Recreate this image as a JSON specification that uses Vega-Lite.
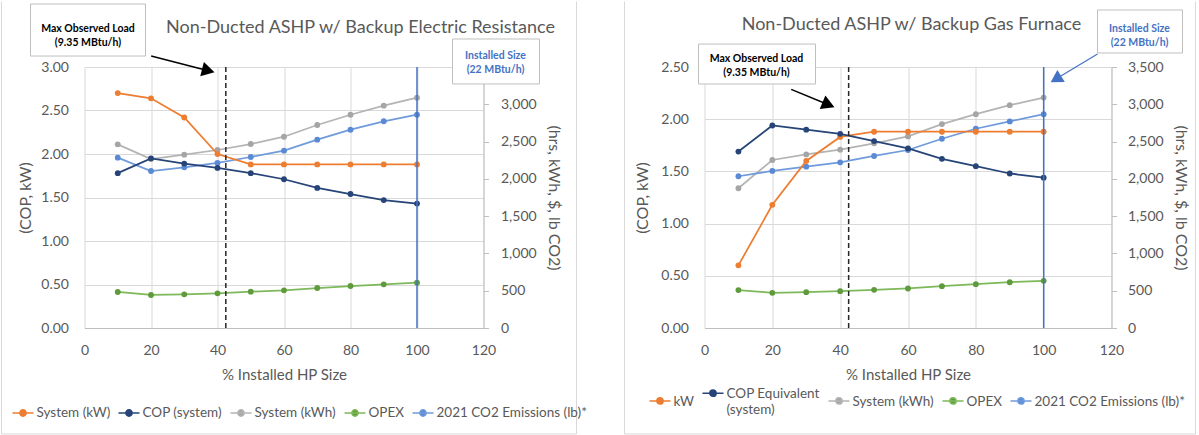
{
  "$schema": "https://vega.github.io/schema/vega-lite/v6.json",
  "padding": {"left": 0.5, "top": 0, "right": 0, "bottom": 0},
  "background": "white",
  "bounds": "flush",
  "spacing": 221,
  "config": {
    "font": "Lato",
    "view": {"stroke": null},
    "axis": {"labelFont": "Lato", "labelFontSize": 14, "labelColor": "#595959", "titleFont": "Lato", "titleFontSize": 16, "titleFontWeight": "normal", "titleColor": "#595959", "labelFlush": false, "labelOverlap": false},
    "axisX": {"titleFontSize": 15},
    "legend": {"labelFont": "Lato", "labelFontSize": 13.5, "labelColor": "#595959", "labelLimit": 400},
    "title": {"font": "Lato", "fontSize": 18, "fontWeight": "normal", "color": "#595959"}
  },
  "datasets": {
    "L": [
      {"x": 10, "s": "System (kW)", "ax": "L", "v": 2.70}, {"x": 20, "s": "System (kW)", "ax": "L", "v": 2.64}, {"x": 30, "s": "System (kW)", "ax": "L", "v": 2.42}, {"x": 40, "s": "System (kW)", "ax": "L", "v": 2.00}, {"x": 50, "s": "System (kW)", "ax": "L", "v": 1.88}, {"x": 60, "s": "System (kW)", "ax": "L", "v": 1.88}, {"x": 70, "s": "System (kW)", "ax": "L", "v": 1.88}, {"x": 80, "s": "System (kW)", "ax": "L", "v": 1.88}, {"x": 90, "s": "System (kW)", "ax": "L", "v": 1.88}, {"x": 100, "s": "System (kW)", "ax": "L", "v": 1.88},
      {"x": 10, "s": "COP (system)", "ax": "L", "v": 1.78}, {"x": 20, "s": "COP (system)", "ax": "L", "v": 1.95}, {"x": 30, "s": "COP (system)", "ax": "L", "v": 1.89}, {"x": 40, "s": "COP (system)", "ax": "L", "v": 1.84}, {"x": 50, "s": "COP (system)", "ax": "L", "v": 1.78}, {"x": 60, "s": "COP (system)", "ax": "L", "v": 1.71}, {"x": 70, "s": "COP (system)", "ax": "L", "v": 1.61}, {"x": 80, "s": "COP (system)", "ax": "L", "v": 1.54}, {"x": 90, "s": "COP (system)", "ax": "L", "v": 1.47}, {"x": 100, "s": "COP (system)", "ax": "L", "v": 1.43},
      {"x": 10, "s": "System (kWh)", "ax": "R", "v": 2463}, {"x": 20, "s": "System (kWh)", "ax": "R", "v": 2266}, {"x": 30, "s": "System (kWh)", "ax": "R", "v": 2324}, {"x": 40, "s": "System (kWh)", "ax": "R", "v": 2387}, {"x": 50, "s": "System (kWh)", "ax": "R", "v": 2467}, {"x": 60, "s": "System (kWh)", "ax": "R", "v": 2565}, {"x": 70, "s": "System (kWh)", "ax": "R", "v": 2722}, {"x": 80, "s": "System (kWh)", "ax": "R", "v": 2860}, {"x": 90, "s": "System (kWh)", "ax": "R", "v": 2981}, {"x": 100, "s": "System (kWh)", "ax": "R", "v": 3088},
      {"x": 10, "s": "OPEX", "ax": "R", "v": 483}, {"x": 20, "s": "OPEX", "ax": "R", "v": 443}, {"x": 30, "s": "OPEX", "ax": "R", "v": 452}, {"x": 40, "s": "OPEX", "ax": "R", "v": 465}, {"x": 50, "s": "OPEX", "ax": "R", "v": 487}, {"x": 60, "s": "OPEX", "ax": "R", "v": 505}, {"x": 70, "s": "OPEX", "ax": "R", "v": 536}, {"x": 80, "s": "OPEX", "ax": "R", "v": 563}, {"x": 90, "s": "OPEX", "ax": "R", "v": 586}, {"x": 100, "s": "OPEX", "ax": "R", "v": 607},
      {"x": 10, "s": "2021 CO2 Emissions (lb)*", "ax": "R", "v": 2284}, {"x": 20, "s": "2021 CO2 Emissions (lb)*", "ax": "R", "v": 2105}, {"x": 30, "s": "2021 CO2 Emissions (lb)*", "ax": "R", "v": 2155}, {"x": 40, "s": "2021 CO2 Emissions (lb)*", "ax": "R", "v": 2213}, {"x": 50, "s": "2021 CO2 Emissions (lb)*", "ax": "R", "v": 2293}, {"x": 60, "s": "2021 CO2 Emissions (lb)*", "ax": "R", "v": 2378}, {"x": 70, "s": "2021 CO2 Emissions (lb)*", "ax": "R", "v": 2525}, {"x": 80, "s": "2021 CO2 Emissions (lb)*", "ax": "R", "v": 2659}, {"x": 90, "s": "2021 CO2 Emissions (lb)*", "ax": "R", "v": 2772}, {"x": 100, "s": "2021 CO2 Emissions (lb)*", "ax": "R", "v": 2860}
    ],
    "R": [
      {"x": 10, "s": "kW", "ax": "L", "v": 0.60}, {"x": 20, "s": "kW", "ax": "L", "v": 1.18}, {"x": 30, "s": "kW", "ax": "L", "v": 1.60}, {"x": 40, "s": "kW", "ax": "L", "v": 1.83}, {"x": 50, "s": "kW", "ax": "L", "v": 1.88}, {"x": 60, "s": "kW", "ax": "L", "v": 1.88}, {"x": 70, "s": "kW", "ax": "L", "v": 1.88}, {"x": 80, "s": "kW", "ax": "L", "v": 1.88}, {"x": 90, "s": "kW", "ax": "L", "v": 1.88}, {"x": 100, "s": "kW", "ax": "L", "v": 1.88},
      {"x": 10, "s": "COP Equivalent (system)", "ax": "L", "v": 1.69}, {"x": 20, "s": "COP Equivalent (system)", "ax": "L", "v": 1.94}, {"x": 30, "s": "COP Equivalent (system)", "ax": "L", "v": 1.90}, {"x": 40, "s": "COP Equivalent (system)", "ax": "L", "v": 1.86}, {"x": 50, "s": "COP Equivalent (system)", "ax": "L", "v": 1.79}, {"x": 60, "s": "COP Equivalent (system)", "ax": "L", "v": 1.72}, {"x": 70, "s": "COP Equivalent (system)", "ax": "L", "v": 1.62}, {"x": 80, "s": "COP Equivalent (system)", "ax": "L", "v": 1.55}, {"x": 90, "s": "COP Equivalent (system)", "ax": "L", "v": 1.48}, {"x": 100, "s": "COP Equivalent (system)", "ax": "L", "v": 1.44},
      {"x": 10, "s": "System (kWh)", "ax": "R", "v": 1874}, {"x": 20, "s": "System (kWh)", "ax": "R", "v": 2253}, {"x": 30, "s": "System (kWh)", "ax": "R", "v": 2328}, {"x": 40, "s": "System (kWh)", "ax": "R", "v": 2391}, {"x": 50, "s": "System (kWh)", "ax": "R", "v": 2476}, {"x": 60, "s": "System (kWh)", "ax": "R", "v": 2569}, {"x": 70, "s": "System (kWh)", "ax": "R", "v": 2734}, {"x": 80, "s": "System (kWh)", "ax": "R", "v": 2868}, {"x": 90, "s": "System (kWh)", "ax": "R", "v": 2988}, {"x": 100, "s": "System (kWh)", "ax": "R", "v": 3090},
      {"x": 10, "s": "OPEX", "ax": "R", "v": 508}, {"x": 20, "s": "OPEX", "ax": "R", "v": 472}, {"x": 30, "s": "OPEX", "ax": "R", "v": 481}, {"x": 40, "s": "OPEX", "ax": "R", "v": 494}, {"x": 50, "s": "OPEX", "ax": "R", "v": 512}, {"x": 60, "s": "OPEX", "ax": "R", "v": 530}, {"x": 70, "s": "OPEX", "ax": "R", "v": 561}, {"x": 80, "s": "OPEX", "ax": "R", "v": 588}, {"x": 90, "s": "OPEX", "ax": "R", "v": 614}, {"x": 100, "s": "OPEX", "ax": "R", "v": 632},
      {"x": 10, "s": "2021 CO2 Emissions (lb)*", "ax": "R", "v": 2035}, {"x": 20, "s": "2021 CO2 Emissions (lb)*", "ax": "R", "v": 2106}, {"x": 30, "s": "2021 CO2 Emissions (lb)*", "ax": "R", "v": 2164}, {"x": 40, "s": "2021 CO2 Emissions (lb)*", "ax": "R", "v": 2222}, {"x": 50, "s": "2021 CO2 Emissions (lb)*", "ax": "R", "v": 2307}, {"x": 60, "s": "2021 CO2 Emissions (lb)*", "ax": "R", "v": 2387}, {"x": 70, "s": "2021 CO2 Emissions (lb)*", "ax": "R", "v": 2538}, {"x": 80, "s": "2021 CO2 Emissions (lb)*", "ax": "R", "v": 2672}, {"x": 90, "s": "2021 CO2 Emissions (lb)*", "ax": "R", "v": 2770}, {"x": 100, "s": "2021 CO2 Emissions (lb)*", "ax": "R", "v": 2868}
    ]
  },
  "hconcat": [
    {
      "width": 399,
      "height": 261,
      "title": {"text": "Non-Ducted ASHP w/ Backup Electric Resistance", "frame": "group", "anchor": "middle", "dx": 76.5, "offset": -35.7},
      "data": {"name": "L"},
      "encoding": {
        "x": {"field": "x", "type": "quantitative", "scale": {"domain": [0, 120]}, "axis": {"values": [0, 20, 40, 60, 80, 100, 120], "title": "% Installed HP Size", "grid": true, "gridColor": "#D9D9D9", "domainColor": "#BFBFBF", "ticks": false, "labelPadding": 15, "titlePadding": 10}}
      },
      "layer": [
        {
          "transform": [{"filter": "datum.ax == 'R'"}],
          "encoding": {"y": {"field": "v", "type": "quantitative", "scale": {"domain": [0, 3500]}, "axis": {"orient": "right", "values": [0, 500, 1000, 1500, 2000, 2500, 3000], "format": ",.0f", "title": "(hrs, kWh, $, lb CO2)", "grid": false, "domainColor": "#BFBFBF", "tickColor": "#BFBFBF", "tickSize": 5, "labelPadding": 12, "titlePadding": 9}}},
          "layer": [
            {"mark": {"type": "line", "strokeWidth": 1.75}, "encoding": {"stroke": {"field": "s", "type": "nominal", "scale": {"domain": ["System (kW)", "COP (system)", "System (kWh)", "OPEX", "2021 CO2 Emissions (lb)*"], "range": ["#ED7D31", "#264478", "#B4B4B4", "#7DB85A", "#6F9BDC"]}, "legend": {"orient": "none", "legendX": -73, "legendY": 334.5, "direction": "horizontal", "title": null, "symbolType": "M-1,0H1M0.3,0A0.3,0.3,0,1,1,-0.3,0A0.3,0.3,0,1,1,0.3,0Z", "symbolSize": 441, "symbolStrokeWidth": 1.5, "labelOffset": 2, "columnPadding": 5}}}},
            {"mark": {"type": "point", "filled": true, "size": 34, "opacity": 1}, "encoding": {"fill": {"field": "s", "type": "nominal", "scale": {"domain": ["System (kW)", "COP (system)", "System (kWh)", "OPEX", "2021 CO2 Emissions (lb)*"], "range": ["#ED7D31", "#264478", "#A5A5A5", "#5F9B3C", "#5A8AD4"]}, "legend": {"orient": "none", "legendX": -73, "legendY": 334.5, "direction": "horizontal", "title": null, "symbolType": "M-1,0H1M0.3,0A0.3,0.3,0,1,1,-0.3,0A0.3,0.3,0,1,1,0.3,0Z", "symbolSize": 441, "symbolStrokeWidth": 1.5, "labelOffset": 2, "columnPadding": 5}}}}
          ]
        },
        {
          "layer": [
            {"transform": [{"filter": "datum.ax == 'L'"}], "mark": {"type": "line", "strokeWidth": 1.75}, "encoding": {"y": {"field": "v", "type": "quantitative", "scale": {"domain": [0, 3]}, "axis": {"orient": "left", "values": [0, 0.5, 1, 1.5, 2, 2.5, 3], "format": ".2f", "title": "(COP, kW)", "grid": true, "gridColor": "#D9D9D9", "domain": false, "ticks": false, "labelPadding": 16, "titlePadding": 7}}, "stroke": {"field": "s", "type": "nominal"}}},
            {"transform": [{"filter": "datum.ax == 'L'"}], "mark": {"type": "point", "filled": true, "size": 34, "opacity": 1}, "encoding": {"y": {"field": "v", "type": "quantitative", "scale": {"domain": [0, 3]}, "axis": {"orient": "left", "values": [0, 0.5, 1, 1.5, 2, 2.5, 3], "format": ".2f", "title": "(COP, kW)", "grid": true, "gridColor": "#D9D9D9", "domain": false, "ticks": false, "labelPadding": 16, "titlePadding": 7}}, "fill": {"field": "s", "type": "nominal"}}},
            {"transform": [{"filter": "datum.x == 10 && datum.s == 'OPEX'"}], "mark": {"type": "rule", "stroke": "#262626", "strokeWidth": 1.5, "strokeDash": [5, 3]}, "encoding": {"x": {"datum": 42.5, "type": "quantitative", "scale": {"domain": [0, 120]}}}},
            {"transform": [{"filter": "datum.x == 10 && datum.s == 'OPEX'"}], "mark": {"type": "rule", "stroke": "#4472C4", "strokeWidth": 1.5}, "encoding": {"x": {"datum": 100, "type": "quantitative", "scale": {"domain": [0, 120]}}}},
            {"transform": [{"filter": "datum.x == 10 && datum.s == 'OPEX'"}], "mark": {"type": "rect", "fill": "white", "stroke": "#BFBFBF", "strokeWidth": 1}, "encoding": {"x": {"datum": -16.24, "type": "quantitative", "scale": {"domain": [0, 120]}}, "x2": {"datum": 18.35}, "y": {"datum": 3.724, "type": "quantitative", "scale": {"domain": [0, 3]}}, "y2": {"datum": 3.126}}},
            {"transform": [{"filter": "datum.x == 10 && datum.s == 'OPEX'"}], "mark": {"type": "text", "text": ["Max Observed Load", "(9.35 MBtu/h)"], "font": "Lato", "fontSize": 10.5, "fontWeight": "bold", "color": "#000000", "align": "center", "baseline": "middle", "lineHeight": 14}, "encoding": {"x": {"datum": 1.05, "type": "quantitative", "scale": {"domain": [0, 120]}}, "y": {"datum": 3.437, "type": "quantitative", "scale": {"domain": [0, 3]}}}},
            {"transform": [{"filter": "datum.x == 10 && datum.s == 'OPEX'"}], "mark": {"type": "rect", "fill": "white", "stroke": "#BFBFBF", "strokeWidth": 1}, "encoding": {"x": {"datum": 110.68, "type": "quantitative", "scale": {"domain": [0, 120]}}, "x2": {"datum": 136.84}, "y": {"datum": 3.322, "type": "quantitative", "scale": {"domain": [0, 3]}}, "y2": {"datum": 2.805}}},
            {"transform": [{"filter": "datum.x == 10 && datum.s == 'OPEX'"}], "mark": {"type": "text", "text": ["Installed Size", "(22 MBtu/h)"], "font": "Lato", "fontSize": 10.5, "fontWeight": "bold", "color": "#4472C4", "align": "center", "baseline": "middle", "lineHeight": 14}, "encoding": {"x": {"datum": 123.6, "type": "quantitative", "scale": {"domain": [0, 120]}}, "y": {"datum": 3.121, "type": "quantitative", "scale": {"domain": [0, 3]}}}},
            {"transform": [{"filter": "datum.x == 10 && datum.s == 'OPEX'"}], "mark": {"type": "rule", "stroke": "#000000", "strokeWidth": 1.5}, "encoding": {"x": {"datum": 20.05, "type": "quantitative", "scale": {"domain": [0, 120]}}, "y": {"datum": 3.126, "type": "quantitative", "scale": {"domain": [0, 3]}}, "x2": {"datum": 37.23}, "y2": {"datum": 2.957}}},
            {"transform": [{"filter": "datum.x == 10 && datum.s == 'OPEX'"}], "mark": {"type": "point", "shape": "triangle-right", "angle": 14.4, "size": 220, "filled": true, "fill": "#000000", "opacity": 1}, "encoding": {"x": {"datum": 37.23, "type": "quantitative", "scale": {"domain": [0, 120]}}, "y": {"datum": 2.957, "type": "quantitative", "scale": {"domain": [0, 3]}}}},
            {"transform": [{"filter": "datum.x == 10 && datum.s == 'OPEX'"}], "mark": {"type": "rule", "stroke": "#D9D9D9", "strokeWidth": 1}, "encoding": {"x": {"datum": -24.962, "type": "quantitative", "scale": {"domain": [0, 120]}}, "y": {"datum": 3.7529, "type": "quantitative", "scale": {"domain": [0, 3]}}, "y2": {"datum": -1.2184}}},
            {"transform": [{"filter": "datum.x == 10 && datum.s == 'OPEX'"}], "mark": {"type": "rule", "stroke": "#D9D9D9", "strokeWidth": 1}, "encoding": {"x": {"datum": 147.97, "type": "quantitative", "scale": {"domain": [0, 120]}}, "y": {"datum": 3.7529, "type": "quantitative", "scale": {"domain": [0, 3]}}, "y2": {"datum": -1.2184}}},
            {"transform": [{"filter": "datum.x == 10 && datum.s == 'OPEX'"}], "mark": {"type": "rule", "stroke": "#D9D9D9", "strokeWidth": 1}, "encoding": {"x": {"datum": -24.962, "type": "quantitative", "scale": {"domain": [0, 120]}}, "x2": {"datum": 147.97}, "y": {"datum": -1.2184, "type": "quantitative", "scale": {"domain": [0, 3]}}}}
          ]
        }
      ],
      "resolve": {"scale": {"y": "independent"}}
    },
    {
      "width": 407,
      "height": 261,
      "title": {"text": "Non-Ducted ASHP w/ Backup Gas Furnace", "frame": "group", "anchor": "middle", "dx": 3.5, "offset": -32.7},
      "data": {"name": "R"},
      "encoding": {
        "x": {"field": "x", "type": "quantitative", "scale": {"domain": [0, 120]}, "axis": {"values": [0, 20, 40, 60, 80, 100, 120], "title": "% Installed HP Size", "grid": true, "gridColor": "#D9D9D9", "domainColor": "#BFBFBF", "ticks": false, "labelPadding": 15, "titlePadding": 10}}
      },
      "layer": [
        {
          "transform": [{"filter": "datum.ax == 'R'"}],
          "encoding": {"y": {"field": "v", "type": "quantitative", "scale": {"domain": [0, 3500]}, "axis": {"orient": "right", "values": [0, 500, 1000, 1500, 2000, 2500, 3000, 3500], "format": ",.0f", "title": "(hrs, kWh, $, lb CO2)", "grid": false, "domainColor": "#BFBFBF", "tickColor": "#BFBFBF", "tickSize": 5, "labelPadding": 11, "titlePadding": 9}}},
          "layer": [
            {"mark": {"type": "line", "strokeWidth": 1.75}, "encoding": {"stroke": {"field": "s", "type": "nominal", "scale": {"domain": ["kW", "COP Equivalent (system)", "System (kWh)", "OPEX", "2021 CO2 Emissions (lb)*"], "range": ["#ED7D31", "#264478", "#B4B4B4", "#7DB85A", "#6F9BDC"]}, "legend": {"orient": "none", "legendX": -56, "legendY": 308.5, "direction": "horizontal", "title": null, "symbolType": "M-1,0.56H1M0.3,0.56A0.3,0.3,0,1,1,-0.3,0.56A0.3,0.3,0,1,1,0.3,0.56Z", "symbolSize": 441, "symbolStrokeWidth": 1.5, "labelOffset": 2, "columnPadding": 5, "labelBaseline": "top", "labelExpr": "datum.label == 'COP Equivalent (system)' ? ['COP Equivalent', '(system)'] : datum.label"}}}},
            {"mark": {"type": "point", "filled": true, "size": 34, "opacity": 1}, "encoding": {"fill": {"field": "s", "type": "nominal", "scale": {"domain": ["kW", "COP Equivalent (system)", "System (kWh)", "OPEX", "2021 CO2 Emissions (lb)*"], "range": ["#ED7D31", "#264478", "#A5A5A5", "#5F9B3C", "#5A8AD4"]}, "legend": {"orient": "none", "legendX": -56, "legendY": 308.5, "direction": "horizontal", "title": null, "symbolType": "M-1,0.56H1M0.3,0.56A0.3,0.3,0,1,1,-0.3,0.56A0.3,0.3,0,1,1,0.3,0.56Z", "symbolSize": 441, "symbolStrokeWidth": 1.5, "labelOffset": 2, "columnPadding": 5, "labelBaseline": "top", "labelExpr": "datum.label == 'COP Equivalent (system)' ? ['COP Equivalent', '(system)'] : datum.label"}}}}
          ]
        },
        {
          "layer": [
            {"transform": [{"filter": "datum.ax == 'L'"}], "mark": {"type": "line", "strokeWidth": 1.75}, "encoding": {"y": {"field": "v", "type": "quantitative", "scale": {"domain": [0, 2.5]}, "axis": {"orient": "left", "values": [0, 0.5, 1, 1.5, 2, 2.5], "format": ".2f", "title": "(COP, kW)", "grid": true, "gridColor": "#D9D9D9", "domain": false, "ticks": false, "labelPadding": 16, "titlePadding": 10}}, "stroke": {"field": "s", "type": "nominal"}}},
            {"transform": [{"filter": "datum.ax == 'L'"}], "mark": {"type": "point", "filled": true, "size": 34, "opacity": 1}, "encoding": {"y": {"field": "v", "type": "quantitative", "scale": {"domain": [0, 2.5]}, "axis": {"orient": "left", "values": [0, 0.5, 1, 1.5, 2, 2.5], "format": ".2f", "title": "(COP, kW)", "grid": true, "gridColor": "#D9D9D9", "domain": false, "ticks": false, "labelPadding": 16, "titlePadding": 10}}, "fill": {"field": "s", "type": "nominal"}}},
            {"transform": [{"filter": "datum.x == 10 && datum.s == 'OPEX'"}], "mark": {"type": "rule", "stroke": "#262626", "strokeWidth": 1.5, "strokeDash": [5, 3]}, "encoding": {"x": {"datum": 42.5, "type": "quantitative", "scale": {"domain": [0, 120]}}}},
            {"transform": [{"filter": "datum.x == 10 && datum.s == 'OPEX'"}], "mark": {"type": "rule", "stroke": "#4472C4", "strokeWidth": 1.5}, "encoding": {"x": {"datum": 100, "type": "quantitative", "scale": {"domain": [0, 120]}}}},
            {"transform": [{"filter": "datum.x == 10 && datum.s == 'OPEX'"}], "mark": {"type": "rect", "fill": "white", "stroke": "#BFBFBF", "strokeWidth": 1}, "encoding": {"x": {"datum": -1.77, "type": "quantitative", "scale": {"domain": [0, 120]}}, "x2": {"datum": 32.73}, "y": {"datum": 2.72, "type": "quantitative", "scale": {"domain": [0, 2.5]}}, "y2": {"datum": 2.337}}},
            {"transform": [{"filter": "datum.x == 10 && datum.s == 'OPEX'"}], "mark": {"type": "text", "text": ["Max Observed Load", "(9.35 MBtu/h)"], "font": "Lato", "fontSize": 10.5, "fontWeight": "bold", "color": "#000000", "align": "center", "baseline": "middle", "lineHeight": 14}, "encoding": {"x": {"datum": 15.33, "type": "quantitative", "scale": {"domain": [0, 120]}}, "y": {"datum": 2.572, "type": "quantitative", "scale": {"domain": [0, 2.5]}}}},
            {"transform": [{"filter": "datum.x == 10 && datum.s == 'OPEX'"}], "mark": {"type": "rect", "fill": "white", "stroke": "#BFBFBF", "strokeWidth": 1}, "encoding": {"x": {"datum": 115.87, "type": "quantitative", "scale": {"domain": [0, 120]}}, "x2": {"datum": 140.93}, "y": {"datum": 3.046, "type": "quantitative", "scale": {"domain": [0, 2.5]}}, "y2": {"datum": 2.634}}},
            {"transform": [{"filter": "datum.x == 10 && datum.s == 'OPEX'"}], "mark": {"type": "text", "text": ["Installed Size", "(22 MBtu/h)"], "font": "Lato", "fontSize": 10.5, "fontWeight": "bold", "color": "#4472C4", "align": "center", "baseline": "middle", "lineHeight": 14}, "encoding": {"x": {"datum": 128.25, "type": "quantitative", "scale": {"domain": [0, 120]}}, "y": {"datum": 2.864, "type": "quantitative", "scale": {"domain": [0, 2.5]}}}},
            {"transform": [{"filter": "datum.x == 10 && datum.s == 'OPEX'"}], "mark": {"type": "rule", "stroke": "#000000", "strokeWidth": 1.5}, "encoding": {"x": {"datum": 25.56, "type": "quantitative", "scale": {"domain": [0, 120]}}, "y": {"datum": 2.286, "type": "quantitative", "scale": {"domain": [0, 2.5]}}, "x2": {"datum": 36.56}, "y2": {"datum": 2.139}}},
            {"transform": [{"filter": "datum.x == 10 && datum.s == 'OPEX'"}], "mark": {"type": "point", "shape": "triangle-right", "angle": 22.4, "size": 220, "filled": true, "fill": "#000000", "opacity": 1}, "encoding": {"x": {"datum": 36.56, "type": "quantitative", "scale": {"domain": [0, 120]}}, "y": {"datum": 2.139, "type": "quantitative", "scale": {"domain": [0, 2.5]}}}},
            {"transform": [{"filter": "datum.x == 10 && datum.s == 'OPEX'"}], "mark": {"type": "rule", "stroke": "#4472C4", "strokeWidth": 1.2}, "encoding": {"x": {"datum": 115.87, "type": "quantitative", "scale": {"domain": [0, 120]}}, "y": {"datum": 2.625, "type": "quantitative", "scale": {"domain": [0, 2.5]}}, "x2": {"datum": 103.6}, "y2": {"datum": 2.384}}},
            {"transform": [{"filter": "datum.x == 10 && datum.s == 'OPEX'"}], "mark": {"type": "point", "shape": "triangle-right", "angle": 148.3, "size": 200, "filled": true, "fill": "#4472C4", "opacity": 1}, "encoding": {"x": {"datum": 103.6, "type": "quantitative", "scale": {"domain": [0, 120]}}, "y": {"datum": 2.384, "type": "quantitative", "scale": {"domain": [0, 2.5]}}}},
            {"transform": [{"filter": "datum.x == 10 && datum.s == 'OPEX'"}], "mark": {"type": "rule", "stroke": "#D9D9D9", "strokeWidth": 1}, "encoding": {"x": {"datum": -23.587, "type": "quantitative", "scale": {"domain": [0, 120]}}, "y": {"datum": 3.1274, "type": "quantitative", "scale": {"domain": [0, 2.5]}}, "y2": {"datum": -1.0153}}},
            {"transform": [{"filter": "datum.x == 10 && datum.s == 'OPEX'"}], "mark": {"type": "rule", "stroke": "#D9D9D9", "strokeWidth": 1}, "encoding": {"x": {"datum": 144.77, "type": "quantitative", "scale": {"domain": [0, 120]}}, "y": {"datum": 3.1274, "type": "quantitative", "scale": {"domain": [0, 2.5]}}, "y2": {"datum": -1.0153}}},
            {"transform": [{"filter": "datum.x == 10 && datum.s == 'OPEX'"}], "mark": {"type": "rule", "stroke": "#D9D9D9", "strokeWidth": 1}, "encoding": {"x": {"datum": -23.587, "type": "quantitative", "scale": {"domain": [0, 120]}}, "x2": {"datum": 144.77}, "y": {"datum": -1.0153, "type": "quantitative", "scale": {"domain": [0, 2.5]}}}}
          ]
        }
      ],
      "resolve": {"scale": {"y": "independent"}}
    }
  ],
  "resolve": {"scale": {"stroke": "independent", "fill": "independent"}, "legend": {"stroke": "independent", "fill": "independent"}}
}
